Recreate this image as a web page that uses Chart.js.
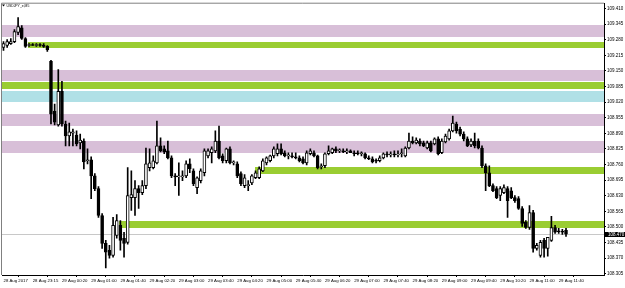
<!DOCTYPE html>
<html>
<head>
<meta charset="utf-8">
<script src="https://cdn.jsdelivr.net/npm/chart.js@4.4.1/dist/chart.umd.min.js"></script>
<style>
  html, body { margin: 0; padding: 0; background: #fff; }
  #wrap { width: 625px; height: 288px; }
</style>
</head>
<body>
<div id="wrap"><canvas id="chart" width="625" height="288"></canvas></div>
<script>
// USDJPY_e, M5 candles
const opens = [
  109.248, 109.256, 109.264, 109.272, 109.310, 109.330, 109.285, 109.256, 109.260, 109.256,
  109.260, 109.256, 109.252, 109.190, 108.983, 108.925, 109.065, 108.929, 108.879, 108.891,
  108.883, 108.850, 108.858, 108.776, 108.780, 108.713, 108.660, 108.548, 108.432, 108.403,
  108.382, 108.465, 108.507, 108.453, 108.436, 108.622, 108.622, 108.660, 108.643, 108.672,
  108.747, 108.747, 108.767, 108.838, 108.825, 108.817, 108.788, 108.713, 108.709, 108.709,
  108.713, 108.763, 108.734, 108.664, 108.693, 108.726, 108.796, 108.809, 108.817, 108.858,
  108.796, 108.776, 108.825, 108.767, 108.763, 108.722, 108.672, 108.672, 108.684, 108.705,
  108.705, 108.734, 108.767, 108.776, 108.796, 108.805, 108.825, 108.809, 108.796, 108.796,
  108.792, 108.788, 108.784, 108.767, 108.805, 108.809, 108.796, 108.751, 108.755, 108.805,
  108.809, 108.825, 108.817, 108.817, 108.813, 108.817, 108.809, 108.809, 108.805, 108.805,
  108.788, 108.784, 108.776, 108.776, 108.788, 108.805, 108.800, 108.805, 108.800, 108.805,
  108.796, 108.829, 108.858, 108.850, 108.858, 108.850, 108.829, 108.850, 108.846, 108.867,
  108.809, 108.854, 108.867, 108.900, 108.929, 108.908, 108.887, 108.867, 108.842, 108.858,
  108.858, 108.829, 108.755, 108.726, 108.672, 108.660, 108.631, 108.643, 108.660, 108.651,
  108.622, 108.618, 108.577, 108.519, 108.498, 108.560, 108.411, 108.382, 108.444, 108.411,
  108.444, 108.498, 108.482, 108.482, 108.486
];
const highs = [
  109.272, 109.281, 109.285, 109.322, 109.372, 109.339, 109.289, 109.264, 109.264, 109.264,
  109.264, 109.264, 109.256, 109.194, 109.012, 109.156, 109.107, 108.941, 108.933, 108.908,
  108.900, 108.887, 108.867, 108.825, 108.792, 108.722, 108.668, 108.556, 108.444, 108.424,
  108.540, 108.552, 108.527, 108.478, 108.747, 108.734, 108.693, 108.672, 108.693, 108.829,
  108.825, 108.796, 108.941, 108.871, 108.838, 108.858, 108.796, 108.722, 108.767, 108.734,
  108.776, 108.784, 108.742, 108.709, 108.742, 108.825, 108.825, 108.834, 108.900, 108.920,
  108.805, 108.829, 108.834, 108.776, 108.771, 108.730, 108.718, 108.693, 108.718, 108.734,
  108.751, 108.784, 108.792, 108.800, 108.834, 108.846, 108.846, 108.817, 108.809, 108.809,
  108.809, 108.796, 108.792, 108.817, 108.825, 108.817, 108.800, 108.763, 108.809, 108.838,
  108.829, 108.834, 108.825, 108.825, 108.825, 108.821, 108.817, 108.817, 108.813, 108.809,
  108.796, 108.792, 108.784, 108.796, 108.809, 108.813, 108.813, 108.817, 108.817, 108.825,
  108.834, 108.891, 108.875, 108.871, 108.867, 108.858, 108.858, 108.858, 108.871, 108.875,
  108.867, 108.887, 108.908, 108.962, 108.937, 108.916, 108.896, 108.875, 108.867, 108.891,
  108.867, 108.838, 108.763, 108.755, 108.680, 108.668, 108.668, 108.676, 108.668, 108.664,
  108.631, 108.627, 108.585, 108.527, 108.589, 108.569, 108.432, 108.444, 108.453, 108.457,
  108.544, 108.507, 108.494, 108.490, 108.494
];
const lows = [
  109.235, 109.248, 109.260, 109.268, 109.301, 109.281, 109.248, 109.252, 109.256, 109.252,
  109.252, 109.248, 109.231, 108.929, 108.925, 108.920, 108.920, 108.838, 108.838, 108.838,
  108.838, 108.825, 108.742, 108.763, 108.618, 108.651, 108.540, 108.411, 108.329, 108.370,
  108.374, 108.453, 108.403, 108.374, 108.428, 108.569, 108.548, 108.577, 108.635, 108.660,
  108.734, 108.742, 108.763, 108.813, 108.805, 108.784, 108.705, 108.672, 108.631, 108.693,
  108.705, 108.726, 108.672, 108.639, 108.684, 108.713, 108.788, 108.767, 108.809, 108.784,
  108.767, 108.767, 108.763, 108.759, 108.705, 108.672, 108.664, 108.651, 108.676, 108.701,
  108.701, 108.730, 108.759, 108.771, 108.788, 108.796, 108.800, 108.792, 108.784, 108.788,
  108.784, 108.771, 108.763, 108.759, 108.800, 108.792, 108.742, 108.742, 108.747, 108.800,
  108.805, 108.809, 108.809, 108.809, 108.805, 108.809, 108.796, 108.800, 108.796, 108.784,
  108.780, 108.767, 108.767, 108.771, 108.784, 108.792, 108.792, 108.792, 108.792, 108.792,
  108.792, 108.825, 108.846, 108.846, 108.838, 108.834, 108.825, 108.813, 108.842, 108.800,
  108.805, 108.850, 108.862, 108.896, 108.891, 108.879, 108.858, 108.834, 108.834, 108.829,
  108.825, 108.747, 108.651, 108.668, 108.647, 108.618, 108.610, 108.639, 108.540, 108.618,
  108.602, 108.573, 108.502, 108.494, 108.490, 108.395, 108.403, 108.374, 108.374, 108.378,
  108.440, 108.473, 108.473, 108.469, 108.461
];
const closes = [
  109.264, 109.272, 109.272, 109.314, 109.335, 109.285, 109.252, 109.260, 109.256, 109.260,
  109.256, 109.252, 109.239, 108.970, 108.937, 109.065, 108.929, 108.879, 108.896, 108.896,
  108.846, 108.862, 108.771, 108.780, 108.713, 108.660, 108.548, 108.432, 108.395, 108.382,
  108.507, 108.527, 108.444, 108.432, 108.631, 108.635, 108.660, 108.643, 108.672, 108.763,
  108.767, 108.776, 108.838, 108.817, 108.813, 108.788, 108.713, 108.709, 108.711, 108.713,
  108.763, 108.742, 108.680, 108.705, 108.734, 108.817, 108.817, 108.825, 108.858, 108.788,
  108.776, 108.825, 108.767, 108.767, 108.713, 108.680, 108.705, 108.672, 108.713, 108.726,
  108.742, 108.776, 108.788, 108.796, 108.825, 108.825, 108.805, 108.796, 108.796, 108.792,
  108.788, 108.776, 108.767, 108.809, 108.817, 108.796, 108.747, 108.755, 108.805, 108.817,
  108.825, 108.817, 108.819, 108.813, 108.817, 108.809, 108.805, 108.805, 108.807, 108.788,
  108.784, 108.771, 108.774, 108.788, 108.805, 108.800, 108.805, 108.800, 108.805, 108.809,
  108.829, 108.858, 108.850, 108.862, 108.846, 108.838, 108.850, 108.817, 108.867, 108.805,
  108.858, 108.879, 108.900, 108.933, 108.900, 108.887, 108.867, 108.838, 108.858, 108.838,
  108.829, 108.755, 108.726, 108.672, 108.651, 108.622, 108.660, 108.664, 108.610, 108.622,
  108.610, 108.577, 108.515, 108.498, 108.560, 108.411, 108.424, 108.436, 108.411, 108.457,
  108.498, 108.478, 108.480, 108.478, 108.470
];

// axis ticks
const xTickBars = [0, 8, 16, 24, 32, 40, 48, 56, 64, 72, 80, 88, 96, 104, 112, 120, 128, 136, 144, 152];
const xTickLabels = ['28 Aug 2017', '28 Aug 23:15', '29 Aug 00:20', '29 Aug 01:00', '29 Aug 01:40',
  '29 Aug 02:20', '29 Aug 03:00', '29 Aug 03:40', '29 Aug 04:20', '29 Aug 05:00', '29 Aug 05:40',
  '29 Aug 06:20', '29 Aug 07:00', '29 Aug 07:40', '29 Aug 08:20', '29 Aug 09:00', '29 Aug 09:40',
  '29 Aug 10:20', '29 Aug 11:00', '29 Aug 11:40'];
const yTicks = [108.305, 108.370, 108.435, 108.500, 108.565, 108.630, 108.695, 108.760, 108.825,
  108.890, 108.955, 109.020, 109.085, 109.150, 109.215, 109.280, 109.345, 109.410];

// zones drawn on the chart (price ranges, start bar)
const purpleLow = [109.293, 109.107, 108.920, 108.810];
const purpleHigh = [109.342, 109.155, 108.969, 108.858];
const greenLow = [109.245, 109.075, 108.720, 108.496];
const greenHigh = [109.272, 109.104, 108.748, 108.524];
const greenFrom = [6.7, null, 68.8, 31.7];
const blueLow = [109.020];
const blueHigh = [109.068];
const bidPrice = 108.470;

const FONT = '"Liberation Sans", Arial, sans-serif';

const zonesPlugin = {
  id: 'zones',
  beforeDatasetsDraw(chart) {
    const { ctx, chartArea: a, scales: { x, y } } = chart;
    ctx.save();
    function band(lo, hi, from, color) {
      const x0 = from === null ? a.left : Math.round(x.getPixelForValue(from));
      const y0 = Math.round(y.getPixelForValue(hi));
      const y1 = Math.round(y.getPixelForValue(lo));
      ctx.fillStyle = color;
      ctx.fillRect(x0, y0, a.right - x0, y1 - y0);
    }
    purpleLow.forEach((lo, i) => band(lo, purpleHigh[i], null, '#d8bfd8'));
    blueLow.forEach((lo, i) => band(lo, blueHigh[i], null, '#b0e0e6'));
    greenLow.forEach((lo, i) => band(lo, greenHigh[i], greenFrom[i], '#9acd32'));

    // bid line
    const yb = Math.round(y.getPixelForValue(bidPrice)) + 0.5;
    ctx.strokeStyle = '#c8c8c8';
    ctx.lineWidth = 1;
    ctx.beginPath();
    ctx.moveTo(a.left, yb);
    ctx.lineTo(a.right, yb);
    ctx.stroke();
    ctx.restore();
  },
  afterDraw(chart) {
    const { ctx, chartArea: a, scales: { y } } = chart;
    ctx.save();
    // left / top frame
    ctx.strokeStyle = '#808080';
    ctx.lineWidth = 1;
    ctx.beginPath();
    ctx.moveTo(a.left - 0.5, a.bottom);
    ctx.lineTo(a.left - 0.5, a.top - 0.5);
    ctx.lineTo(a.right, a.top - 0.5);
    ctx.stroke();

    // symbol caption
    ctx.fillStyle = '#000';
    ctx.beginPath();
    ctx.moveTo(2, 4.5);
    ctx.lineTo(5, 4.5);
    ctx.lineTo(3.5, 6.5);
    ctx.closePath();
    ctx.fill();
    ctx.font = '3.4px ' + FONT;
    ctx.textBaseline = 'middle';
    ctx.fillText('USDJPY_e,M5', 6.5, 5.8);

    // bid price box
    const yb = Math.round(y.getPixelForValue(bidPrice));
    ctx.fillStyle = '#000';
    ctx.fillRect(a.right + 1, yb - 2, 625 - a.right, 5);
    ctx.fillStyle = '#fff';
    ctx.font = '4.5px ' + FONT;
    ctx.fillText(bidPrice.toFixed(3), a.right + 4, yb + 0.6);
    ctx.restore();
  }
};

const bars = opens.map((o, i) => i);

new Chart(document.getElementById('chart'), {
  type: 'bar',
  data: {
    datasets: [
      {
        // candle bodies
        data: bars.map(i => ({ x: i, y: [opens[i], closes[i]] })),
        backgroundColor: c => closes[c.dataIndex] >= opens[c.dataIndex] ? '#ffffff' : '#000000',
        borderColor: '#000000',
        borderWidth: 1,
        borderSkipped: false,
        barThickness: 3,
        maxBarThickness: 3,
        minBarLength: 1,
        grouped: false,
        order: 1
      },
      {
        // wicks
        data: bars.map(i => ({ x: i, y: [lows[i], highs[i]] })),
        backgroundColor: '#000000',
        borderWidth: 0,
        barThickness: 1,
        maxBarThickness: 1,
        grouped: false,
        order: 2
      }
    ]
  },
  options: {
    responsive: false,
    animation: false,
    events: [],
    layout: { padding: { left: 2, top: 2, right: 0, bottom: 0 } },
    plugins: { legend: { display: false }, tooltip: { enabled: false } },
    scales: {
      x: {
        type: 'linear',
        offset: false,
        min: -0.41,
        max: 164.4,
        afterBuildTicks: s => { s.ticks = xTickBars.map(v => ({ value: v })); },
        afterFit: s => { s.height = 13; },
        grid: { drawOnChartArea: false, drawTicks: true, tickLength: 2, color: '#000' },
        border: { display: true, color: '#000' },
        ticks: {
          autoSkip: false,
          maxRotation: 0,
          align: 'start',
          padding: 1,
          color: '#000',
          font: { family: FONT, size: 4.3 },
          callback: (v, i) => xTickLabels[i]
        }
      },
      y: {
        position: 'right',
        min: 108.300,
        max: 109.430,
        beginAtZero: false,
        afterBuildTicks: s => { s.ticks = yTicks.map(v => ({ value: v })); },
        afterFit: s => { s.width = 21; },
        grid: { drawOnChartArea: false, drawTicks: true, tickLength: 2, color: '#000' },
        border: { display: true, color: '#000' },
        ticks: {
          padding: 1,
          color: '#000',
          font: { family: FONT, size: 4.5 },
          callback: v => v.toFixed(3)
        }
      }
    }
  },
  plugins: [zonesPlugin]
});
</script>
</body>
</html>
